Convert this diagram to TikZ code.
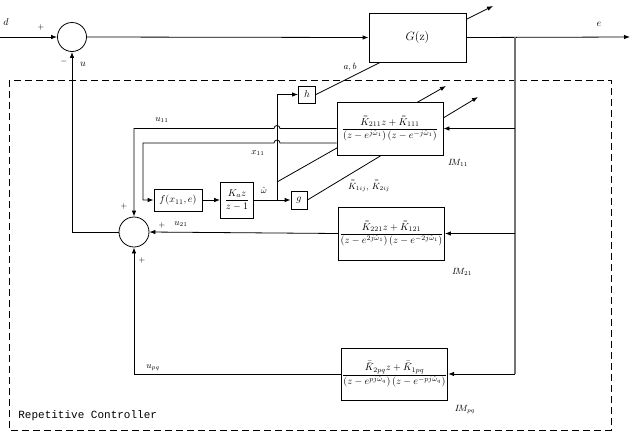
\documentclass[tikz,border=0pt]{standalone}
\usepackage{amsmath}
\usepackage{fontspec}
\setmonofont{Liberation Mono}
\usetikzlibrary{arrows.meta}

\begin{document}
\begin{tikzpicture}[x=1pt, y=-1pt, line width=0.8pt,
  blk/.style={draw, fill=white, inner sep=1pt, align=center},
  sum/.style={draw, circle, minimum size=29pt, inner sep=0pt},
  arr/.style={-{Latex[length=6pt, width=4.5pt]}},
  lbl/.style={font=\small, inner sep=0pt},
  fb/.style={draw=black!55, line width=1.4pt}]
\useasboundingbox (0,0) rectangle (630,432);
\draw[dash pattern=on 7pt off 4pt] (9,80) rectangle (611,430);
% small blocks
\node[sum] (s1) at (72,37) {};
\node[sum, minimum size=30pt] (s2) at (134,232) {};
\node[blk, minimum width=48pt, minimum height=22pt] (f) at (178,200) {$f\!\left(x_{11},e\right)$};
\node[blk, minimum width=33pt, minimum height=36pt] (ka) at (237,200) {$\dfrac{K_a z}{z-1}$};
\node[blk, minimum width=16pt, minimum height=18pt] (g) at (299,200) {$g$};
\node[blk, minimum width=17pt, minimum height=17pt] (h) at (307,94.5) {$h$};
\coordinate (j1) at (277,200);
\coordinate (j2) at (277,182);
\coordinate (tg) at (493,6);
\coordinate (ti) at (446,86);
\coordinate (tk) at (478,97);
% adaptation lines (passing under the blocks)
\draw[arr] (h.east) -- (tg);
\draw[arr] (j2) -- (ti);
\draw[arr] (g.east) -- (tk);
% plant and internal models
\node[blk, minimum width=97pt, minimum height=49pt, font=\large] (G) at (417.5,37.5) {$G$(z)};
\node[blk, minimum width=106pt, minimum height=53pt] (im1) at (390,128.5)
  {$\dfrac{\bar{\bar{K}}_{211}z+\bar{\bar{K}}_{111}}{\left(z-e^{j\hat\omega_1}\right)\left(z-e^{-j\hat\omega_1}\right)}$};
\node[blk, minimum width=105pt, minimum height=53pt] (im2) at (391.5,233.5)
  {$\dfrac{\bar{\bar{K}}_{221}z+\bar{\bar{K}}_{121}}{\left(z-e^{2j\hat\omega_1}\right)\left(z-e^{-2j\hat\omega_1}\right)}$};
\node[blk, minimum width=105pt, minimum height=52pt] (imp) at (394.5,374)
  {$\dfrac{\bar{\bar{K}}_{2pq}z+\bar{\bar{K}}_{1pq}}{\left(z-e^{pj\hat\omega_q}\right)\left(z-e^{-pj\hat\omega_q}\right)}$};
\coordinate (din) at (0,37);
\coordinate (eout) at (630,37);
\coordinate (br) at (515,37);
\coordinate (brb) at (515,374);
\coordinate (xc) at (143,143);
% main loop
\draw[arr] (din) -- (s1.west);
\draw[arr] (s1.east) -- (G.west);
\draw[arr] (G.east) -- (eout);
\draw[fb] (br) -- (brb);
\draw[arr] (br |- im1.east) -- (im1.east);
\draw[arr] (br |- im2.east) -- (im2.east);
\draw[arr] (brb) -- (imp.east);
\draw[arr] (s2.west) -| (s1.south);
% controller
\draw[arr] (im1.west) -- (280,128.5) arc[start angle=0, end angle=-180, radius=3]
  -- (s2.north |- im1.west) -- (s2.north);
\draw[arr] ([yshift=-14.5pt]im1.west) -- (280,143) arc[start angle=0, end angle=-180, radius=3]
  -- (xc) |- (f.west);
\draw[arr] (f.east) -- (ka.west);
\draw[arr] (ka.east) -- (g.west);
\draw[arr] (j1) |- (h.west);
\draw[arr] (im2.west) -- (s2.east);
\draw[arr] (imp.west) -| (s2.south);
% labels
\node[lbl, font=\normalsize] (ld) at (6,22) {$d$};
\node[lbl, font=\footnotesize] (lp1) at (41,27) {$+$};
\node[lbl, font=\footnotesize] (lm1) at (64,61) {$-$};
\node[lbl, font=\normalsize] (lu) at (83,64) {$u$};
\node[lbl] (lab) at (350,67) {$a,b$};
\node[lbl, font=\normalsize] (le) at (599,24) {$e$};
\node[lbl] (lu11) at (162,120) {$u_{11}$};
\node[lbl] (lx11) at (258,153) {$x_{11}$};
\node[lbl] (lw) at (264,190) {$\hat\omega$};
\node[lbl] (lk) at (369,186) {$\bar{\bar{K}}_{1ij},\,\bar{\bar{K}}_{2ij}$};
\node[lbl] (lim1) at (458,163) {$I\!M_{11}$};
\node[lbl, font=\footnotesize] (lp2) at (124,206) {$+$};
\node[lbl, font=\footnotesize] (lp3) at (162,225) {$+$};
\node[lbl] (lu21) at (181,224) {$u_{21}$};
\node[lbl, font=\footnotesize] (lp4) at (142,260) {$+$};
\node[lbl] (lim2) at (462,272) {$I\!M_{21}$};
\node[lbl] (lupq) at (153,368) {$u_{pq}$};
\node[lbl] (limp) at (465,410) {$I\!M_{pq}$};
\node[lbl, anchor=west, font=\fontsize{11}{13}\selectfont\ttfamily] (lrc) at (18,416) {Repetitive Controller};
\end{tikzpicture}
\end{document}
